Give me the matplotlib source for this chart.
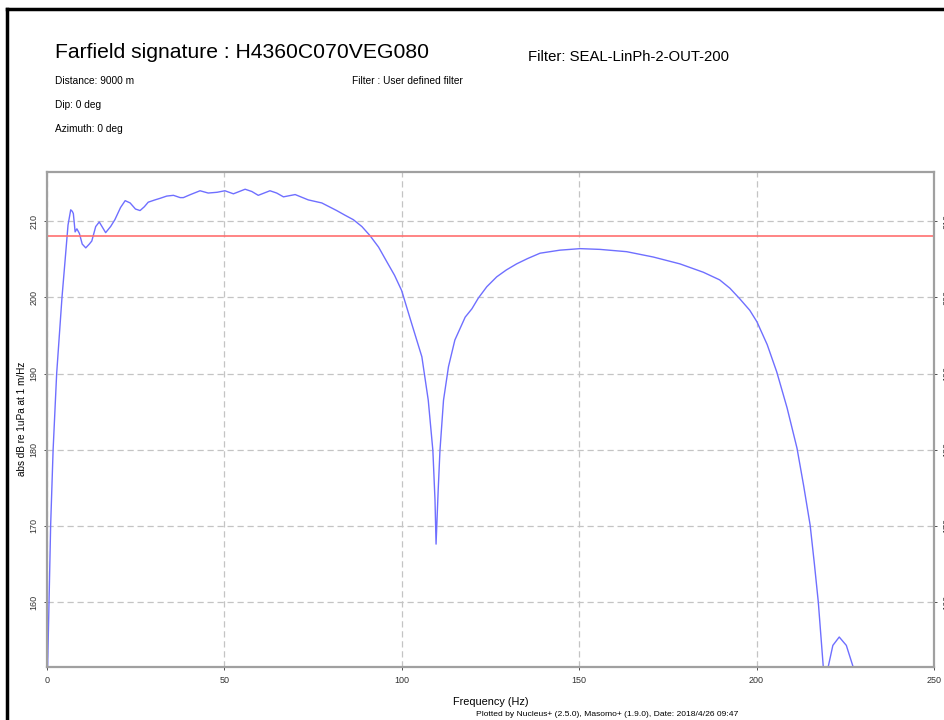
import matplotlib.pyplot as plt
from matplotlib.lines import Line2D

plt.rcParams['font.family'] = ['Liberation Sans', 'DejaVu Sans']

# Farfield spectrum (Hz, dB)
freq = [0.25, 0.65, 1.1, 1.8, 2.8, 4.3, 5.2, 6.0, 6.76, 7.2, 7.5, 8.0, 8.5, 9.2, 10.0,
        11.0, 12.0, 12.7, 13.8, 14.8, 15.7, 16.6, 18.0, 19.2, 20.8, 22.1, 23.5, 25.0,
        26.3, 27.5, 28.6, 30.5, 31.9, 33.8, 35.7, 37.6, 38.5, 40.5, 43.2, 45.5, 48.0,
        50.2, 52.6, 55.9, 57.8, 59.6, 62.9, 64.8, 66.7, 70.0, 73.7, 77.5, 81.7, 84.0,
        86.4, 88.8, 91.1, 93.5, 95.8, 98.0, 100.0, 102.8, 105.7, 107.5, 108.8, 109.4,
        109.7, 110.3, 110.8, 111.8, 113.2, 115.0, 117.9, 119.8, 121.6, 124.0, 126.8,
        129.5, 132.4, 135.5, 139.0, 144.6, 150.3, 155.9, 163.4, 170.9, 178.4, 185.0,
        189.6, 192.5, 195.3, 198.1, 200.1, 203.0, 205.7, 208.6, 211.4, 213.3, 215.1,
        216.3, 217.4, 218.8, 219.5, 220.2, 221.5, 223.3, 225.3, 227.2, 228.0]
level = [151.5, 160, 170, 180, 190, 200, 205, 209.5, 211.5, 211.3, 211.0, 208.6, 209.0,
         208.4, 207.0, 206.5, 207.0, 207.4, 209.3, 209.9, 209.2, 208.5, 209.3, 210.2,
         211.8, 212.7, 212.4, 211.6, 211.4, 211.9, 212.5, 212.8, 213.0, 213.3, 213.4,
         213.1, 213.1, 213.5, 214.0, 213.7, 213.8, 214.0, 213.6, 214.2, 213.9, 213.4,
         214.0, 213.7, 213.2, 213.5, 212.8, 212.4, 211.4, 210.8, 210.2, 209.3, 208.1,
         206.6, 204.7, 202.9, 200.9, 196.6, 192.2, 186.5, 179.9, 173.4, 167.6, 174.7,
         179.9, 186.5, 190.9, 194.4, 197.4, 198.5, 199.9, 201.4, 202.7, 203.6, 204.4,
         205.1, 205.8, 206.2, 206.4, 206.3, 206.0, 205.3, 204.4, 203.3, 202.3, 201.2,
         199.8, 198.3, 196.8, 193.8, 190.2, 185.5, 180.2, 175.2, 170.1, 165.0, 160.0,
         151.5, 145.0, 151.5, 154.3, 155.4, 154.3, 151.5, 149.0]
ref_level = 208.0
xticks = [0, 50, 100, 150, 200, 250]
yticks = [160, 170, 180, 190, 200, 210]

fig = plt.figure(figsize=(9.44, 7.2), dpi=100)
ax = fig.add_axes([0.0495, 0.074, 0.9399, 0.6875])

ax.plot(freq, level, color='#6f6fff', lw=1.0)
ax.axhline(ref_level, color='#ff6f6f', lw=1.2)

ax.set_xlim(0, 250)
ax.set_ylim(151.5, 216.5)
ax.set_xticks(xticks)
ax.set_yticks(yticks)
ax.grid(True, ls=(0, (5, 3)), color='#c4c4c4', lw=0.9)
for s in ax.spines.values():
    s.set_color('#a0a0a0')
    s.set_linewidth(1.6)
ax.tick_params(axis='both', labelsize=6.5, colors='#333333', length=2, width=0.6)
ax.tick_params(axis='x', pad=5)
ax.tick_params(axis='y', labelrotation=90, right=True, labelright=True, pad=4)
for t in ax.yaxis.get_major_ticks():
    t.label1.set_va('center')
    t.label2.set_va('center')

ax.set_xlabel('Frequency (Hz)', fontsize=7.8, labelpad=8)
ax.set_ylabel('abs dB re 1uPa at 1 m/Hz', fontsize=7.2)
ax.yaxis.set_label_coords(-0.022, 0.5)

# header texts
fig.text(55 / 944, 1 - 52 / 720, 'Farfield signature : H4360C070VEG080', fontsize=15.2, va='center')
fig.text(528 / 944, 1 - 57 / 720, 'Filter: SEAL-LinPh-2-OUT-200', fontsize=10.7, va='center')
fig.text(55 / 944, 1 - 81 / 720, 'Distance: 9000 m', fontsize=7.3, va='center')
fig.text(352 / 944, 1 - 81 / 720, 'Filter : User defined filter', fontsize=7.3, va='center')
fig.text(55 / 944, 1 - 105 / 720, 'Dip: 0 deg', fontsize=7.3, va='center')
fig.text(55 / 944, 1 - 129 / 720, 'Azimuth: 0 deg', fontsize=7.3, va='center')
fig.text(607 / 944, 1 - 714 / 720,
         'Plotted by Nucleus+ (2.5.0), Masomo+ (1.9.0), Date: 2018/4/26 09:47',
         fontsize=6.1, ha='center', va='center')

# black frame on the left and top
fig.add_artist(Line2D([7 / 944, 7 / 944], [0, 1 - 9 / 720], color='black', lw=2.5))
fig.add_artist(Line2D([7 / 944, 1], [1 - 9 / 720, 1 - 9 / 720], color='black', lw=2.5))

fig.savefig('out.png', dpi=100)
